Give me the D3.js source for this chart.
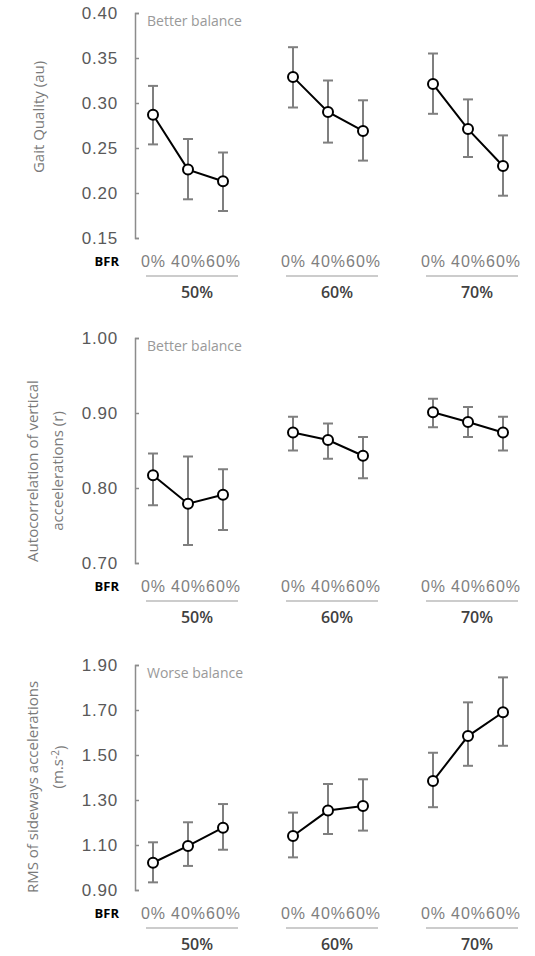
<!DOCTYPE html>
<html lang="en">
    <head>
        <meta charset="utf-8">
        <script type="text/javascript" src="https://cdn.jsdelivr.net/npm/d3@7"></script>
        <style type="text/css">
            body { margin: 0; background: #ffffff; }
            svg { font-family: "Open Sans", sans-serif; }
            .y.axis path, .y.axis line { stroke: #8c8c8c; stroke-width: 1.5px; }
            .y.axis text { fill: #595959; font-size: 17px; letter-spacing: 0.8px; }
            .x.axis text { fill: #7f7f7f; font-size: 16px; letter-spacing: 1px; }
            .errbar { stroke: #7f7f7f; stroke-width: 2px; fill: none; }
            .trend { stroke: #000000; stroke-width: 2px; fill: none; }
            .dot { fill: #ffffff; stroke: #000000; stroke-width: 2px; }
        </style>
    </head>
    <body>
        <script type="text/javascript">
            // categories
            var groups = ["50%", "60%", "70%"];
            var bfr = ["0%", "40%", "60%"];

            // gait quality (au), one row per group
            var gaitMean  = [[0.287, 0.226, 0.213], [0.329, 0.290, 0.269], [0.321, 0.271, 0.230]];
            var gaitUpper = [[0.319, 0.260, 0.245], [0.362, 0.325, 0.303], [0.355, 0.304, 0.264]];
            var gaitLower = [[0.254, 0.193, 0.180], [0.295, 0.256, 0.236], [0.288, 0.240, 0.197]];

            // autocorrelation of vertical accelerations (r)
            var autoMean  = [[0.817, 0.779, 0.791], [0.874, 0.864, 0.843], [0.901, 0.888, 0.874]];
            var autoUpper = [[0.846, 0.842, 0.825], [0.895, 0.886, 0.868], [0.919, 0.908, 0.895]];
            var autoLower = [[0.777, 0.724, 0.744], [0.850, 0.839, 0.813], [0.881, 0.868, 0.850]];

            // RMS of sideways accelerations (m.s-2)
            var rmsMean  = [[1.021, 1.096, 1.177], [1.140, 1.253, 1.273], [1.384, 1.584, 1.690]];
            var rmsUpper = [[1.112, 1.201, 1.282], [1.244, 1.371, 1.392], [1.510, 1.734, 1.845]];
            var rmsLower = [[0.934, 1.007, 1.079], [1.045, 1.149, 1.164], [1.268, 1.452, 1.541]];

            // tick labels
            var gaitTicks = [0.15, 0.20, 0.25, 0.30, 0.35, 0.40];
            var autoTicks = [0.70, 0.80, 0.90, 1.00];
            var rmsTicks = [0.90, 1.10, 1.30, 1.50, 1.70, 1.90];

            var panels = [
              {mean: gaitMean, upper: gaitUpper, lower: gaitLower, ticks: gaitTicks,
               top: 13, note: "Better balance", title: ["Gait Quality (au)"], titleY: [117]},
              {mean: autoMean, upper: autoUpper, lower: autoLower, ticks: autoTicks,
               top: 338, note: "Better balance", title: ["Autocorrelation of vertical", "acceelerations (r)"], titleY: [471, 471]},
              {mean: rmsMean, upper: rmsUpper, lower: rmsLower, ticks: rmsTicks,
               top: 665, note: "Worse balance", title: ["RMS of sideways accelerations", "(m.s-2)"], titleY: [787, 767]}
            ];

            var w = 535, h = 956, ph = 225, axisX = 135;

            // slot index -> x ; one empty slot between groups
            var xScale = d3.scaleLinear().domain([0, 10]).range([153, 503]);
            function slot(g, i) { return g * 4 + i; }

            var svg = d3.select("body")
              .append("svg")
              .attr("width", w)
              .attr("height", h);

            panels.forEach(function(p) {
              var g = svg.append("g");
              var bottom = p.top + ph;
              var yScale = d3.scaleLinear()
                .domain([p.ticks[0], p.ticks[p.ticks.length - 1]])
                .range([bottom, p.top]);

              // y axis with inward ticks
              g.append("g")
                .attr("class", "y axis")
                .attr("transform", "translate(" + axisX + ",0)")
                .call(d3.axisLeft(yScale)
                  .tickValues(p.ticks)
                  .tickFormat(d3.format(".2f"))
                  .tickSizeInner(-4)
                  .tickSizeOuter(-4)
                  .tickPadding(17));

              // bfr labels under each point
              var slots = [];
              groups.forEach(function(gr, gi) {
                bfr.forEach(function(b, bi) { slots.push(slot(gi, bi)); });
              });
              var xAxis = g.append("g")
                .attr("class", "x axis")
                .attr("transform", "translate(0," + (bottom + 15) + ")")
                .call(d3.axisBottom(xScale)
                  .tickValues(slots)
                  .tickFormat(function(d) { return bfr[d % 4]; })
                  .tickSize(0));
              xAxis.select(".domain").remove();

              g.append("text")
                .attr("x", 119)
                .attr("y", bottom + 28)
                .attr("text-anchor", "end")
                .style("font-size", "13px")
                .style("font-weight", "bold")
                .style("fill", "#000")
                .text("BFR");

              // group underline and label
              groups.forEach(function(gr, gi) {
                var x0 = xScale(slot(gi, 0)), x2 = xScale(slot(gi, 2));
                g.append("line")
                  .attr("x1", x0 - 7).attr("x2", x2 + 15)
                  .attr("y1", bottom + 38).attr("y2", bottom + 38)
                  .style("stroke", "#999").style("stroke-width", 1.2);
                g.append("text")
                  .attr("x", xScale(slot(gi, 1)) + 9)
                  .attr("y", bottom + 60)
                  .attr("text-anchor", "middle")
                  .style("font-size", "16px")
                  .style("font-weight", 600)
                  .style("fill", "#404040")
                  .text(gr);
              });

              // note at top
              g.append("text")
                .attr("x", 147)
                .attr("y", p.top + 13)
                .style("font-size", "14px")
                .style("fill", "#999")
                .text(p.note);

              // y title, one text per line
              p.title.forEach(function(t, ti) {
                var tx = g.append("text")
                  .attr("transform", "translate(" + (p.title.length > 1 ? 38 + ti * 25 : 39) + "," + p.titleY[ti] + ") rotate(-90)")
                  .attr("text-anchor", "middle")
                  .style("font-size", "15px")
                  .style("fill", "#7a7a7a");
                if (p.title.length === 1) tx.attr("dy", "0.32em");
                if (t.indexOf("-2") > -1) {
                  tx.append("tspan").text("(m.s");
                  tx.append("tspan").attr("dy", "-0.45em").style("font-size", "10px").text("-2");
                  tx.append("tspan").attr("dy", "0.45em").text(")");
                } else {
                  tx.text(t);
                }
              });

              // series per group
              groups.forEach(function(gr, gi) {
                var pts = bfr.map(function(b, bi) {
                  return {x: xScale(slot(gi, bi)), m: p.mean[gi][bi], lo: p.lower[gi][bi], hi: p.upper[gi][bi]};
                });

                var eb = g.selectAll(null).data(pts).enter().append("g").attr("class", "errbar");
                eb.append("line")
                  .attr("x1", function(d) { return d.x; }).attr("x2", function(d) { return d.x; })
                  .attr("y1", function(d) { return yScale(d.lo); }).attr("y2", function(d) { return yScale(d.hi); });
                eb.append("line")
                  .attr("x1", function(d) { return d.x - 5; }).attr("x2", function(d) { return d.x + 5; })
                  .attr("y1", function(d) { return yScale(d.hi); }).attr("y2", function(d) { return yScale(d.hi); });
                eb.append("line")
                  .attr("x1", function(d) { return d.x - 5; }).attr("x2", function(d) { return d.x + 5; })
                  .attr("y1", function(d) { return yScale(d.lo); }).attr("y2", function(d) { return yScale(d.lo); });

                g.append("path")
                  .datum(pts)
                  .attr("class", "trend")
                  .attr("d", d3.line().x(function(d) { return d.x; }).y(function(d) { return yScale(d.m); }));

                g.selectAll(null).data(pts).enter().append("circle")
                  .attr("class", "dot")
                  .attr("cx", function(d) { return d.x; })
                  .attr("cy", function(d) { return yScale(d.m); })
                  .attr("r", 5);
              });
            });
        </script>
    </body>
</html>
